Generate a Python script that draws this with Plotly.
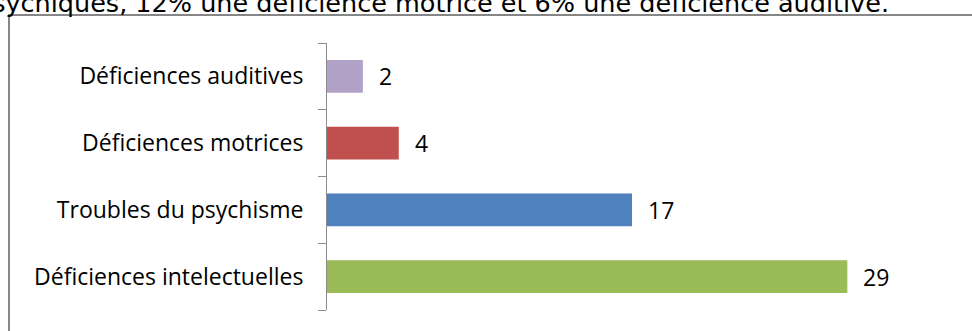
import plotly.graph_objects as go

categories = ["Déficiences intelectuelles", "Troubles du psychisme", "Déficiences motrices", "Déficiences auditives"]
values = [29, 17, 4, 2]
colors = ["#9BBB59", "#4F81BD", "#C0504D", "#B3A2C7"]
caption = "psychiques, 12% une déficience motrice et 6% une déficience auditive."

W, H = 972, 331
L, R, T, B = 327, 955, 43, 310
pw, ph = R - L, B - T

def px(x):
    return (x - L) / pw

def py(y):
    return (B - y) / ph

fig = go.Figure(go.Bar(
    y=categories, x=values, orientation="h",
    marker=dict(color=colors, line=dict(width=0)),
    hoverinfo="skip",
))

annotations = [
    dict(x=v, y=c, xref="x", yref="y", text=str(v), showarrow=False,
         xanchor="left", xshift=14, font=dict(family="Open Sans", size=23, color="#000"))
    for c, v in zip(categories, values)
]
annotations.append(dict(
    x=px(891), y=py(3), xref="paper", yref="paper", text=caption, showarrow=False,
    xanchor="right", yanchor="middle",
    font=dict(family="DejaVu Sans", size=25.5, color="#000"),
))

fig.update_layout(
    width=W, height=H,
    margin=dict(l=L, r=W - R, t=T, b=H - B, pad=0),
    paper_bgcolor="white", plot_bgcolor="white",
    showlegend=False,
    bargap=0.51,
    annotations=annotations,
    shapes=[dict(type="rect", xref="paper", yref="paper",
                 x0=px(9), x1=px(990), y0=py(360), y1=py(15),
                 line=dict(color="#868686", width=2), fillcolor="rgba(0,0,0,0)", layer="below")],
    xaxis=dict(range=[0, 35], visible=False, fixedrange=True),
    yaxis=dict(
        type="category", categoryorder="array", categoryarray=categories,
        showline=True, linecolor="#8c8c8c", linewidth=1,
        ticks="outside", tickson="boundaries", ticklen=8, tickcolor="#8c8c8c", tickwidth=1,
        ticklabelstandoff=18,
        tickfont=dict(family="Open Sans", size=23, color="#000"),
        showgrid=False, zeroline=False, fixedrange=True,
    ),
)

fig.write_html("out.html")
